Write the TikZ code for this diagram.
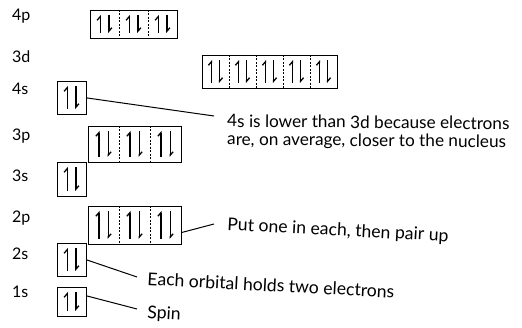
\documentclass[tikz,border=0pt]{standalone}
\usepackage{fontspec}
\setmainfont{Lato}
\usetikzlibrary{arrows.meta}
\tikzset{
  orb/.style={draw, line width=0.9pt, inner sep=0pt, rectangle},
  divider/.style={line width=0.7pt, dash pattern=on 2pt off 1.5pt},
  eup/.style={line width=1.3pt, -{Straight Barb[harpoon,length=3.5pt,width=6pt]}},
  edown/.style={line width=1.3pt, -{Straight Barb[harpoon,length=3.5pt,width=6pt]}},
  lvl/.style={anchor=base west, font=\fontsize{16}{19}\selectfont, inner sep=0pt},
  note/.style={anchor=base west, font=\fontsize{17.2}{18}\selectfont, inner sep=0pt, rotate=-0.5},
  notebig/.style={anchor=base west, font=\fontsize{17.6}{20}\selectfont, inner sep=0pt, rotate=-3},
  conn/.style={line width=1pt},
}
\newcommand\OrbBox[6]{%
  \node[orb, anchor=north west, minimum width={#4*#5*1pt}, minimum height={#6*1pt}] (#1) at (#2,#3) {};
  \foreach \i in {0,...,\numexpr#4-1\relax}{%
    \ifnum\i>0
      \draw[divider] ({#2+\i*#5},#3) -- ({#2+\i*#5},{#3+#6});
    \fi
    \draw[eup] ({#2+(\i+0.35)*#5},{#3+#6-5}) -- ({#2+(\i+0.35)*#5},{#3+5});
    \draw[edown] ({#2+(\i+0.65)*#5},{#3+5}) -- ({#2+(\i+0.65)*#5},{#3+#6-5});
  }%
}
\begin{document}
\begin{tikzpicture}[x=1pt,y=-1pt]
\useasboundingbox (0,0) rectangle (522,328);
% level labels
\node[lvl] (l4p) at (12,21) {4p};
\node[lvl] (l3d) at (12,63) {3d};
\node[lvl] (l4s) at (12,95) {4s};
\node[lvl] (l3p) at (12,141) {3p};
\node[lvl] (l3s) at (12,182) {3s};
\node[lvl] (l2p) at (12,223) {2p};
\node[lvl] (l2s) at (12,260) {2s};
\node[lvl] (l1s) at (12,298) {1s};
% orbital boxes
\OrbBox{b4p}{90}{10}{3}{29}{28}
\OrbBox{b3d}{202}{55}{5}{27}{33}
\OrbBox{b4s}{57}{81}{1}{29}{33}
\OrbBox{b3p}{88}{126}{3}{31}{36}
\OrbBox{b3s}{57}{162}{1}{29}{34}
\OrbBox{b2p}{88}{206}{3}{31}{38}
\OrbBox{b2s}{57}{243}{1}{29}{33}
\OrbBox{b1s}{57}{287}{1}{29}{29}
% notes
\node[note] (t4sa) at (227,127) {4s is lower than 3d because electrons};
\node[note] (t4sb) at (227,145) {are, on average, closer to the nucleus};
\node[notebig] (t2p) at (227,230) {Put one in each, then pair up};
\node[notebig] (t2s) at (147,285) {Each orbital holds two electrons};
\node[notebig] (t1s) at (147,318) {Spin};
% connector ends
\coordinate (c4s) at (214,116);
\coordinate (c2p) at (214,224);
\coordinate (c2s) at (137,277);
\coordinate (c1s) at (137,309);
\draw[conn] (b4s.east) -- (c4s);
\draw[conn] ([yshift=-7pt]b2p.east) -- (c2p);
\draw[conn] (b2s.east) -- (c2s);
\draw[conn] ([yshift=6pt]b1s.east) -- (c1s);
\end{tikzpicture}
\end{document}
